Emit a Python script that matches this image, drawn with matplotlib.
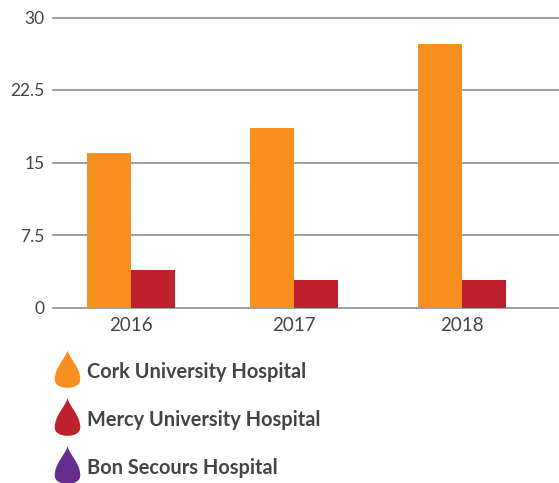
import matplotlib
matplotlib.use('Agg')
import matplotlib.pyplot as plt
from matplotlib.lines import Line2D
from matplotlib.path import Path

# data
years = ['2016', '2017', '2018']
cork = [16.0, 18.6, 27.3]
mercy = [3.9, 2.8, 2.8]
hospitals = ['Cork University Hospital', 'Mercy University Hospital', 'Bon Secours Hospital']
y_ticks = [0, 7.5, 15, 22.5, 30]
y_labels = ['0', '7.5', '15', '22.5', '30']

colors = ['#F79020', '#BE202E', '#662D91']
text_color = '#444444'
W, H = 559, 483

plt.rcParams['font.family'] = ['Lato', 'DejaVu Sans']

fig = plt.figure(figsize=(W / 100, H / 100), dpi=100)
ax = fig.add_axes([53 / W, 1 - 307.5 / H, (W - 53) / W, 290 / H])

# group spacing in the source is slightly uneven
group_pos = [0, 0.985, 2]
bar_w = 44 / 165.5

ax.bar([p - bar_w / 2 for p in group_pos], cork, bar_w, color=colors[0], zorder=3)
ax.bar([p + bar_w / 2 for p in group_pos], mercy, bar_w, color=colors[1], zorder=3)

ax.set_xlim(-78 / 165.5, 428 / 165.5)
ax.set_ylim(0, 30)
ax.set_yticks(y_ticks, y_labels)
ax.set_xticks(group_pos, years)
ax.tick_params(axis='y', length=0, pad=6, labelsize=12.5, labelcolor=text_color)
ax.tick_params(axis='x', length=0, pad=6.5, labelsize=13.5, labelcolor=text_color)
ax.grid(axis='y', color='#8f8f8f', lw=1.2, zorder=1)
ax.set_axisbelow(True)
for s in ax.spines.values():
    s.set_visible(False)
for line in ax.get_ygridlines():
    line.set_clip_on(False)

# teardrop legend markers, drawn a little above the middle of the row
up = 0.13
drop = Path(
    [(0, 1 + up), (-0.12, 0.55 + up), (-0.68, 0.1 + up), (-0.68, -0.55 + up), (-0.68, -0.85 + up), (-0.38, -1 + up),
     (0, -1 + up), (0.38, -1 + up), (0.68, -0.85 + up), (0.68, -0.55 + up), (0.68, 0.1 + up), (0.12, 0.55 + up), (0, 1 + up)],
    [Path.MOVETO] + [Path.CURVE4] * 12,
)
handles = [Line2D([], [], ls='none', marker=drop, markersize=30.5, color=c, markeredgewidth=0) for c in colors]
leg = fig.legend(
    handles, hospitals, loc='upper left', bbox_to_anchor=(54 / W, 1 - 362 / H),
    frameon=False, fontsize=14.4, labelcolor=text_color,
    borderpad=0, borderaxespad=0, handlelength=1.27, handletextpad=0.38, labelspacing=1.4,
)
for t in leg.get_texts():
    t.set_fontweight('bold')

fig.savefig('out.png', dpi=100)
